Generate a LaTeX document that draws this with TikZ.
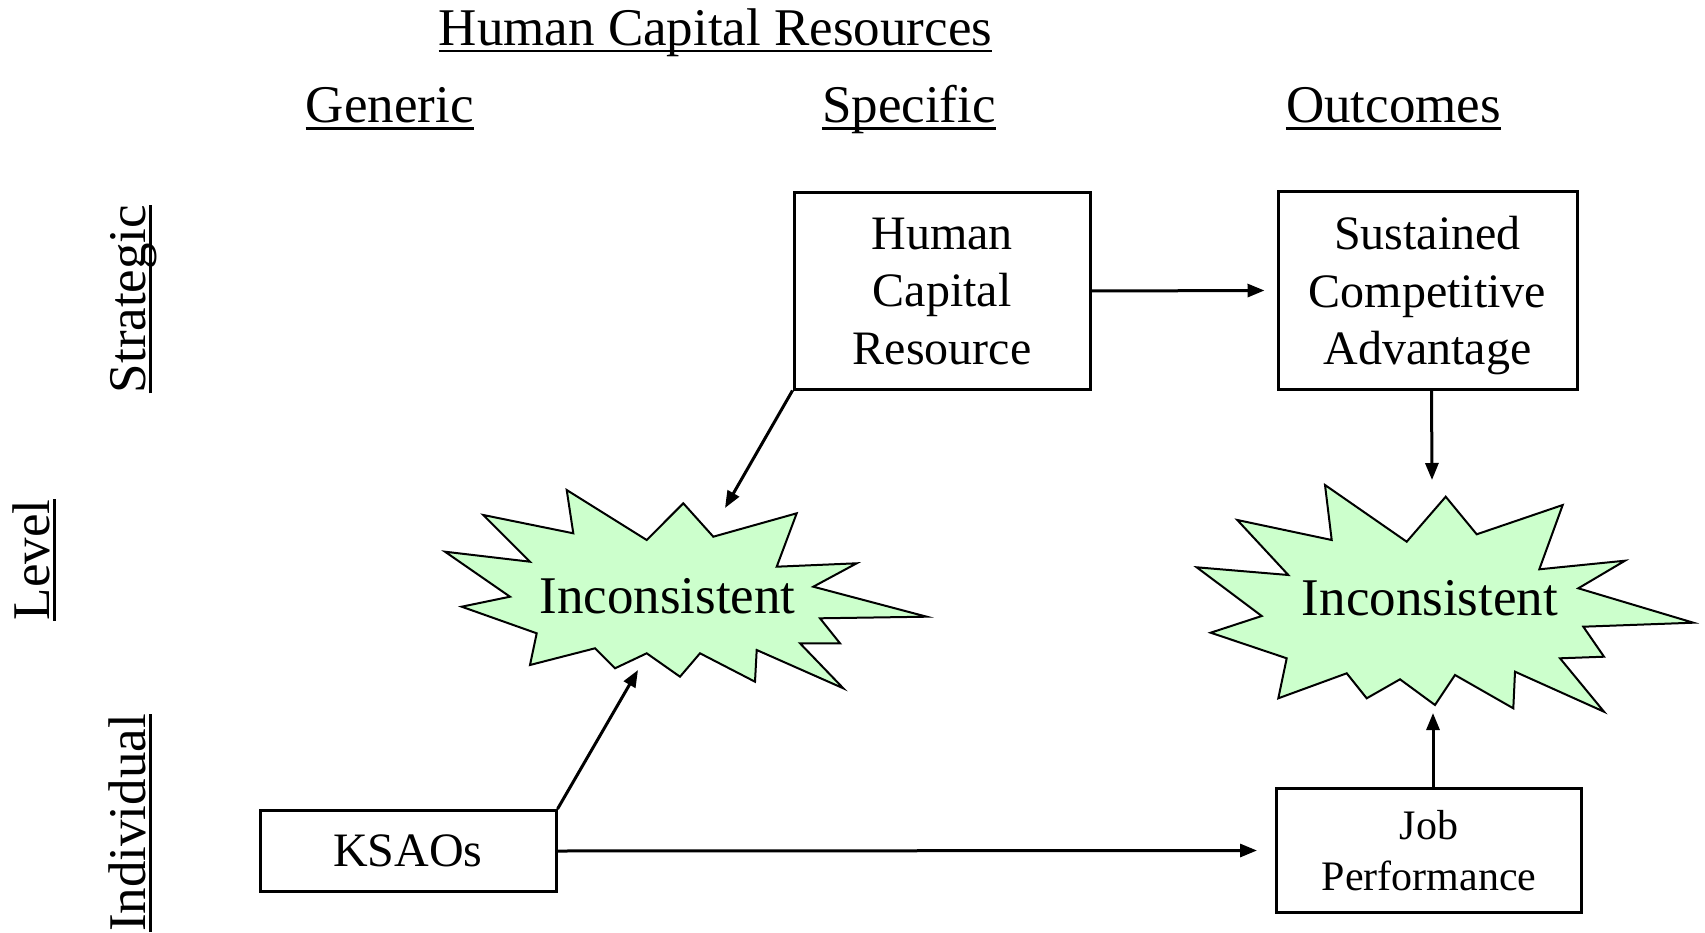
\documentclass[tikz,border=0pt]{standalone}
\usepackage{fontspec}
\setmainfont{Liberation Serif}
\usetikzlibrary{arrows.meta}
\definecolor{burstfill}{HTML}{CCFFCC}
\begin{document}
\begin{tikzpicture}[x=1pt,y=-1pt,
  box/.style={draw, line width=3pt, align=center, inner sep=0pt, text depth=0pt},
  boxfont/.style={font=\fontsize{48}{57.6}\selectfont},
  link/.style={line width=3pt, -{Triangle[length=17pt,width=13pt]}},
  head/.style={inner sep=0pt, anchor=base, font=\fontsize{53}{60}\selectfont},
  side/.style={head, rotate=90},
  uline/.style={line width=2.5pt},
  burst/.style={draw, line width=2pt, fill=burstfill, line join=miter},
  bursttext/.style={inner sep=0pt, anchor=base, font=\fontsize{53}{60}\selectfont}
]
\useasboundingbox (0,0) rectangle (1705,933);

% column headings
\node[head] (title) at (715.5,45.7) {Human Capital Resources};
\node[head] (generic) at (389.8,123) {Generic};
\node[head] (specific) at (909,123) {Specific};
\node[head] (outcomes) at (1393.5,123) {Outcomes};
\foreach \h in {title,generic,specific,outcomes}
  \draw[uline] ([yshift=-5.5pt]\h.base west) -- ([yshift=-5.5pt]\h.base east);

% row headings
\node[side] (strategic) at (145,299) {Strategic};
\node[side] (level) at (49,560) {Level};
\node[side] (individual) at (145,823) {Individual};
\foreach \h in {strategic,level,individual}
  \draw[uline] ([xshift=5.5pt]\h.base west) -- ([xshift=5.5pt]\h.base east);

% starbursts
\draw[burst] (566.7,490) -- (646.7,540) -- (683.3,503.3) -- (713.3,536.7)
  -- (796.7,513.3) -- (776.7,566.7) -- (856.7,563.3) -- (813.3,586.7)
  -- (926.7,616.7) -- (820,618.3) -- (840,643.3) -- (800,643.3)
  -- (843.3,688.3) -- (756.7,650) -- (755,681.7) -- (700,653.3)
  -- (680,676.7) -- (646.7,653.3) -- (615,668.3) -- (595,648.3)
  -- (530,665) -- (536.7,633.3) -- (461.7,606.7) -- (510,596.7)
  -- (445,551.7) -- (530,561.7) -- (483.3,515) -- (573.3,533.3) -- cycle;
\node[bursttext] (incA) at (667.5,613.3) {Inconsistent};

\draw[burst] (1325,485) -- (1406.7,541.7) -- (1445.7,496.7) -- (1476.7,534.3)
  -- (1562.7,505) -- (1539.3,569.3) -- (1625,560.7) -- (1578.3,588.3)
  -- (1693.3,622.7) -- (1583.3,626.7) -- (1604,656.7) -- (1560,658.3)
  -- (1604,711.7) -- (1515,671.7) -- (1513.3,708.3) -- (1455,675)
  -- (1435,705) -- (1400,679.3) -- (1366.7,698.3) -- (1346.7,673.3)
  -- (1278.3,698.3) -- (1286.7,658.3) -- (1210.7,632.7) -- (1261.7,616)
  -- (1196.7,567.3) -- (1288.3,575) -- (1237.3,520) -- (1331.7,540) -- cycle;
\node[bursttext] (incB) at (1430,615) {Inconsistent};

% boxes
\node[box, boxfont, minimum width=296pt, minimum height=196pt] (hcr) at (942,291)
  {Human\\Capital\\Resource};
\node[box, boxfont, minimum width=299pt, minimum height=197pt] (sca) at (1427.5,290.5)
  {Sustained\\Competitive\\Advantage};
\node[box, boxfont, minimum width=296pt, minimum height=81pt] (ksao) at (408,851)
  {KSAOs};
\node[box, font=\fontsize{42}{50.4}\selectfont, minimum width=305pt, minimum height=124pt] (jp) at (1429,850.5)
  {Job\\Performance};

% arrow end points near the starbursts
\coordinate (tA1) at (725,508);
\coordinate (tA2) at (638,670);
\coordinate (tB1) at (1432,480);
\coordinate (tB2) at (1433,713);

% connectors
\draw[link] (hcr.east) -- ([xshift=-12pt]sca.west);
\draw[link] (ksao.east) -- ([xshift=-18pt]jp.west);
\draw[link] (hcr.south west) -- (tA1);
\draw[link] (ksao.north east) -- (tA2);
\draw[link] ([xshift=4pt]sca.south) -- (tB1);
\draw[link] ([xshift=4pt]jp.north) -- (tB2);
\end{tikzpicture}
\end{document}
